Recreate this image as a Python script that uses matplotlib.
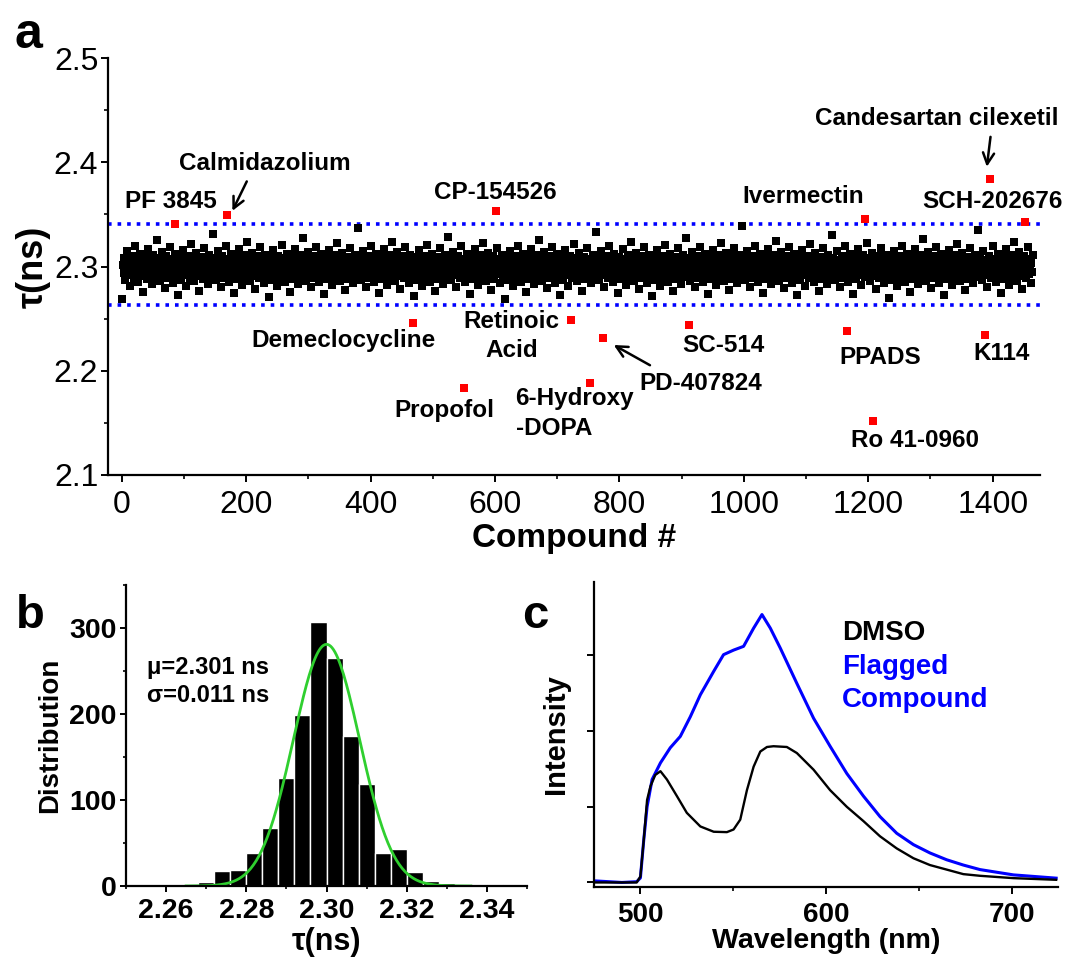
import numpy as np
import matplotlib
matplotlib.use('Agg')
import matplotlib.pyplot as plt
from matplotlib.ticker import MultipleLocator, FormatStrFormatter

plt.rcParams['font.family'] = ['Liberation Sans', 'DejaVu Sans']

# ---- panel b: histogram of lifetimes (bin centres, counts) ----
bin_centers = [2.270, 2.274, 2.278, 2.282, 2.286, 2.290, 2.294, 2.298, 2.302, 2.306,
               2.310, 2.314, 2.318, 2.322, 2.326, 2.330, 2.334, 2.338, 2.342]
bin_counts = [5, 18, 19, 38, 68, 126, 199, 307, 265, 175,
              119, 38, 43, 16, 6, 3, 2, 2, 2]
bin_width = 0.004
gauss_amp = 281
gauss_center = 2.300
gauss_w = 0.0165   # Origin style w = 2 sigma

# ---- panel a: flagged compounds ----
hit_names = ['PF 3845', 'Calmidazolium', 'CP-154526', 'Demeclocycline', 'Retinoic Acid',
             'Propofol', '6-Hydroxy-DOPA', 'PD-407824', 'SC-514', 'PPADS',
             'Ro 41-0960', 'K114', 'Ivermectin', 'SCH-202676', 'Candesartan cilexetil']
hit_x = [86, 170, 601, 468, 722, 550, 753, 774, 912, 1165, 1207, 1387, 1195, 1452, 1396]
hit_tau = [2.341, 2.349, 2.353, 2.246, 2.249, 2.183, 2.188, 2.231, 2.244, 2.238,
           2.152, 2.234, 2.346, 2.343, 2.384]
upper_limit = 2.341
lower_limit = 2.263

# ---- panel c: emission spectra ----
dmso_nm = [476, 490, 498, 500, 501.8, 503.6, 505.4, 508, 510.8, 514.3, 519.7, 525, 532.3,
           539.5, 546.6, 550.2, 553.8, 557.4, 561, 564.6, 568.2, 571.7, 578.9, 584.3,
           593.3, 602.2, 611.2, 620.2, 629.1, 638.1, 647.1, 656, 665, 674, 683, 701, 724]
dmso_int = [0, 0, 0, 0.08, 0.56, 1.09, 1.27, 1.42, 1.47, 1.36, 1.14, 0.92, 0.74,
            0.67, 0.665, 0.70, 0.83, 1.22, 1.53, 1.73, 1.79, 1.80, 1.79, 1.71,
            1.49, 1.22, 1.00, 0.81, 0.61, 0.45, 0.32, 0.23, 0.17, 0.11, 0.088, 0.057, 0.035]
flag_nm = [476, 490, 498, 500, 501.8, 503.6, 506.3, 510.8, 516.1, 521.5, 526.9, 532.3,
           539.5, 544.8, 550.2, 555.6, 561, 565.5, 570, 575.3, 584.3, 593.3, 602.2,
           611.2, 620.2, 629.1, 638.1, 647.1, 656, 665, 674, 683, 701, 724]
flag_int = [0.02, 0.0, 0.01, 0.06, 0.56, 1.0, 1.36, 1.58, 1.78, 1.93, 2.19, 2.48,
            2.79, 3.01, 3.07, 3.12, 3.36, 3.54, 3.36, 3.10, 2.63, 2.17, 1.80,
            1.44, 1.14, 0.87, 0.65, 0.50, 0.39, 0.30, 0.23, 0.17, 0.10, 0.057]

# black (non-hit) compounds: lifetimes taken from the histogram bins inside the
# limits (each bin's members spread across its width), placed on the compound
# numbers that are not hits
vals = []
for c, n in zip(bin_centers, bin_counts):
    if c <= upper_limit:
        vals.extend(c - bin_width / 2 + (np.arange(n) + 0.5) / n * bin_width)
tau_sorted = np.array(vals)
n_black = len(tau_sorted)
n_total = n_black + len(hit_x)
black_x = np.array([i for i in range(1, n_total + 1) if i not in hit_x])
order = np.argsort(np.mod(np.arange(n_black) * 0.6180339887, 1.0))
black_tau = np.empty(n_black)
black_tau[order] = tau_sorted

W, H = 1067, 961
fig = plt.figure(figsize=(W / 100, H / 100), dpi=100)


def rect(l, t, r, b):
    return [l / W, 1 - b / H, (r - l) / W, (b - t) / H]


def style(a, labelsize, pad, maj=5, mnr=3):
    for s in ['top', 'right']:
        a.spines[s].set_visible(False)
    for s in ['left', 'bottom']:
        a.spines[s].set_linewidth(1.6)
    a.tick_params(which='major', direction='out', length=maj, width=1.4,
                  labelsize=labelsize, pad=pad)
    a.tick_params(which='minor', direction='out', length=mnr, width=1.2)


# ================= panel a =================
ax = fig.add_axes(rect(108, 58, 1040, 475))
ax.axhline(upper_limit, color='#0000ff', ls=':', lw=2.6, zorder=1)
ax.axhline(lower_limit, color='#0000ff', ls=':', lw=2.6, zorder=1)
ax.plot(black_x, black_tau, 's', color='black', ms=5.8, mew=0, zorder=2)
ax.plot(hit_x, hit_tau, 's', color='#ff0000', ms=5.8, mew=0, zorder=3)
ax.set_xlim(-22, 1476)
ax.set_ylim(2.1, 2.5)
ax.xaxis.set_major_locator(MultipleLocator(200))
ax.xaxis.set_minor_locator(MultipleLocator(100))
ax.yaxis.set_major_locator(MultipleLocator(0.1))
ax.yaxis.set_minor_locator(MultipleLocator(0.05))
ax.yaxis.set_major_formatter(FormatStrFormatter('%.1f'))
style(ax, 23, 2)
ax.tick_params(axis='x', which='major', pad=6)
ax.set_xlabel('Compound #', fontsize=24, fontweight='bold', labelpad=2)
ax.set_ylabel('τ(ns)', fontsize=26, fontweight='bold', labelpad=2)

lab = dict(fontsize=17.5, fontweight='bold', ha='center', va='center')
ax.text(79, 2.362, 'PF 3845', **lab)
ax.text(230, 2.399, 'Calmidazolium', **lab)
ax.text(601, 2.371, 'CP-154526', **lab)
ax.text(357, 2.229, 'Demeclocycline', **lab)
ax.text(627, 2.233, 'Retinoic\nAcid', linespacing=1.35, **lab)
ax.text(519, 2.162, 'Propofol', **lab)
ax.text(633, 2.159, '6-Hydroxy\n-DOPA', fontsize=17.5, fontweight='bold', ha='left',
        va='center', linespacing=1.4)
ax.text(930, 2.188, 'PD-407824', **lab)
ax.text(967, 2.224, 'SC-514', **lab)
ax.text(1219, 2.213, 'PPADS', **lab)
ax.text(1275, 2.133, 'Ro 41-0960', **lab)
ax.text(1414, 2.217, 'K114', **lab)
ax.text(1095, 2.367, 'Ivermectin', **lab)
ax.text(1400, 2.362, 'SCH-202676', **lab)
ax.text(1310, 2.442, 'Candesartan cilexetil', **lab)

arr = dict(arrowstyle='->', color='black', lw=1.8, mutation_scale=20)
ax.annotate('', xy=(176, 2.351), xytext=(203, 2.384), arrowprops=arr)
ax.annotate('', xy=(787, 2.226), xytext=(853, 2.204), arrowprops=arr)
ax.annotate('', xy=(1390, 2.393), xytext=(1397, 2.427), arrowprops=arr)

# ================= panel b =================
bx = fig.add_axes(rect(126, 585, 527, 886))
bx.bar(bin_centers, bin_counts, width=bin_width, color='black', edgecolor='white', lw=1.0)
gx = np.linspace(2.265, 2.336, 200)
bx.plot(gx, gauss_amp * np.exp(-2 * ((gx - gauss_center) / gauss_w) ** 2),
        color='#2fcf2f', lw=2.0)
bx.set_xlim(2.25, 2.35)
bx.set_ylim(0, 350)
bx.xaxis.set_major_locator(MultipleLocator(0.02))
bx.xaxis.set_minor_locator(MultipleLocator(0.01))
bx.yaxis.set_major_locator(MultipleLocator(100))
bx.yaxis.set_minor_locator(MultipleLocator(50))
bx.xaxis.set_major_formatter(FormatStrFormatter('%.2f'))
style(bx, 20.5, 3, maj=4, mnr=2.5)
bx.tick_params(axis='x', which='major', pad=5)
for t in bx.get_xticklabels() + bx.get_yticklabels():
    t.set_fontweight('bold')
bx.set_xlabel('τ(ns)', fontsize=22, fontweight='bold', labelpad=2)
bx.set_ylabel('Distribution', fontsize=20, fontweight='bold', labelpad=4)
bx.text(2.2552, 238, 'μ=2.301 ns\nσ=0.011 ns', fontsize=17, fontweight='bold',
        ha='left', va='center', linespacing=1.3)

# ================= panel c =================
cx = fig.add_axes(rect(594, 582, 1058, 887))
cx.plot(flag_nm, flag_int, color='#0000ff', lw=2.2)
cx.plot(dmso_nm, dmso_int, color='black', lw=1.7)
cx.set_xlim(475, 725)
cx.set_ylim(-0.06, 3.97)
cx.xaxis.set_major_locator(MultipleLocator(100))
cx.xaxis.set_minor_locator(MultipleLocator(50))
cx.set_yticks([0, 1, 2, 3])
cx.set_yticklabels([])
style(cx, 20, 6)
for t in cx.get_xticklabels():
    t.set_fontweight('bold')
cx.set_xlabel('Wavelength (nm)', fontsize=20.5, fontweight='bold', labelpad=0)
cx.set_ylabel('Intensity', fontsize=21, fontweight='bold', labelpad=6)
cx.text(608.5, 3.30, 'DMSO', color='black', fontsize=20, fontweight='bold', va='center')
cx.text(608.5, 2.85, 'Flagged', color='#0000ff', fontsize=20, fontweight='bold', va='center')
cx.text(608.5, 2.41, 'Compound', color='#0000ff', fontsize=20, fontweight='bold', va='center')

# panel letters
fig.text(14 / W, 1 - 48 / H, 'a', fontsize=36, fontweight='bold', va='baseline')
fig.text(16 / W, 1 - 628 / H, 'b', fontsize=34, fontweight='bold', va='baseline')
fig.text(522 / W, 1 - 628 / H, 'c', fontsize=34, fontweight='bold', va='baseline')

fig.savefig('out.png', dpi=100)
